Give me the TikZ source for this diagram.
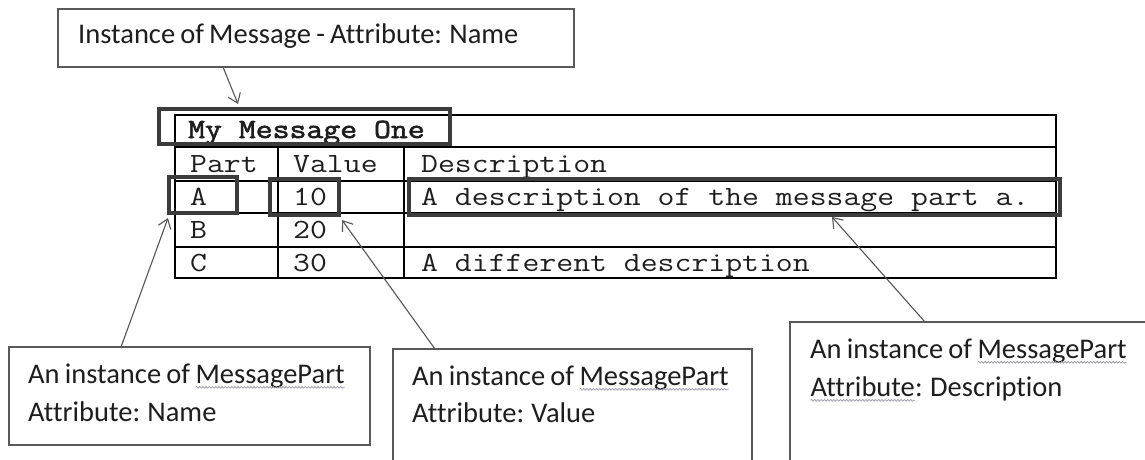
\documentclass[tikz,border=0pt]{standalone}
\usepackage{fontspec}
\setmainfont[Ligatures=NoCommon,WordSpace=0.8]{Carlito}
\newfontfamily\courish[FakeStretch=1.18]{Latin Modern Mono}
\newfontfamily\courishbold[FakeStretch=1.18,FakeBold=2.2]{Latin Modern Mono}
\usetikzlibrary{arrows.meta,decorations.pathmorphing,calc}
\definecolor{boxgray}{HTML}{595959}
\definecolor{hlgray}{HTML}{3C3C3C}
\definecolor{arrowgray}{HTML}{555555}
\definecolor{txt}{HTML}{1E1E1E}
\definecolor{squiggray}{HTML}{9A9AA8}
\newcommand\spellmark[1]{\tikz[baseline=(w.base)]{\node[inner sep=0pt,outer sep=0pt](w){#1};\draw[draw=squiggray,line width=0.7pt,decorate,decoration={snake,segment length=3.2pt,amplitude=0.9pt}] ([yshift=-3.8pt]w.base west)--([yshift=-3.8pt]w.base east);}}
\begin{document}
\begin{tikzpicture}[x=1pt,y=-1pt,
  callout/.style={draw=boxgray, line width=1.3pt, rectangle, inner sep=0pt, outer sep=0pt, anchor=north west},
  hl/.style={draw=hlgray, line width=4pt, rectangle, inner sep=0pt, outer sep=0pt, anchor=north west},
  grid/.style={draw=black, line width=1.2pt},
  ptr/.style={draw=arrowgray, line width=1.1pt, -{Straight Barb[length=9pt,width=13pt,line width=1.1pt]}},
  lbl/.style={anchor=base west, inner sep=0pt, font=\fontsize{28.5}{33}\selectfont, text=txt},
  cell/.style={anchor=base west, inner sep=0pt, font=\courish\fontsize{27.8}{33}\selectfont, text=txt}
]
\useasboundingbox (0,0) rectangle (1145,459);
\clip (0,0) rectangle (1145,459);
\fill[white] (0,0) rectangle (1145,459);

% callout boxes
\node[callout, minimum width=516pt, minimum height=58pt] (nameCallout) at (58,9) {};
\node[callout, minimum width=361pt, minimum height=98pt] (partCallout) at (9,347) {};
\node[callout, minimum width=359pt, minimum height=160pt] (valueCallout) at (393,349) {};
\node[callout, minimum width=420pt, minimum height=200pt] (descCallout) at (790,322) {};

% callout texts
\node[lbl] (nameText) at (78,43.5) {Instance of Message - Attribute: Name};
\node[lbl] (partText1) at (28,383.5) {An instance of \spellmark{MessagePart}};
\node[lbl] (partText2) at (28,421.5) {Attribute: Name};
\node[lbl] (valueText1) at (412,385.5) {An instance of \spellmark{MessagePart}};
\node[lbl] (valueText2) at (412,422) {Attribute: Value};
\node[lbl] (descText1) at (810,358.5) {An instance of \spellmark{MessagePart}};
\node[lbl] (descText2) at (810,396.5) {\spellmark{Attribute}: Description};

% table grid
\draw[grid] (175,115) rectangle (1056,278);
\draw[grid] (175,147) -- (1056,147);
\draw[grid] (175,181) -- (1056,181);
\draw[grid] (175,213) -- (1056,213);
\draw[grid] (175,247) -- (1056,247);
\draw[grid] (278,147) -- (278,278);
\draw[grid] (404,147) -- (404,278);

% table cells
\node[cell, font=\courishbold\fontsize{27.8}{33}\selectfont] (title) at (188,138) {My Message One};
\node[cell] (hPart) at (190,172) {Part};
\node[cell] (hValue) at (293,172) {Value};
\node[cell] (hDesc) at (421,172) {Description};
\node[cell] (aPart) at (190,205) {A};
\node[cell] (aValue) at (293,205) {10};
\node[cell] (aDesc) at (421,205) {A description of the message part a.};
\node[cell] (bPart) at (190,238) {B};
\node[cell] (bValue) at (293,238) {20};
\node[cell] (cPart) at (190,271) {C};
\node[cell] (cValue) at (293,271) {30};
\node[cell] (cDesc) at (421,271) {A different description};

% highlight boxes
\node[hl, minimum width=291pt, minimum height=35pt] (titleHL) at (159,109) {};
\node[hl, minimum width=68pt, minimum height=36pt] (aHL) at (169,177) {};
\node[hl, minimum width=69pt, minimum height=36pt] (vHL) at (270,179) {};
\node[hl, minimum width=651pt, minimum height=36pt] (dHL) at (409,179) {};

% pointers
\draw[ptr] ($(nameCallout.south west)+(165,0)$) -- ($(titleHL.north west)+(79,-5)$);
\draw[ptr] ($(partCallout.north west)+(112,0)$) -- ($(aHL.south west)+(-1,5)$);
\draw[ptr] ($(valueCallout.north west)+(42,0)$) -- ($(vHL.south east)+(3,5)$);
\draw[ptr] ($(descCallout.north west)+(135,0)$) -- ($(dHL.south west)+(423,2)$);
\end{tikzpicture}
\end{document}
